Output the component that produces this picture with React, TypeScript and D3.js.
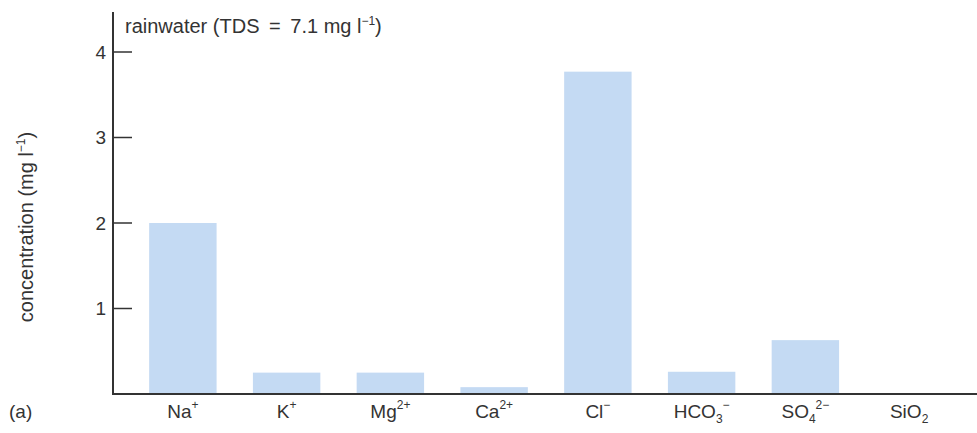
import React from "react";
import * as d3 from "d3";

// ions, in plot order; base text plus optional sub/superscript parts
const ions = ["Na", "K", "Mg", "Ca", "Cl", "HCO", "SO", "SiO"];
const ionSub = ["", "", "", "", "", "3", "4", "2"];
const ionSup = ["+", "+", "2+", "2+", "\u2212", "\u2212", "2\u2212", ""];
// concentration in mg l^-1
const concentration = [2.0, 0.25, 0.25, 0.08, 3.77, 0.26, 0.63, 0];
const yTicks = [1, 2, 3, 4];

const W = 977;
const H = 433;
const margin = { left: 113, right: 0, top: 12, bottom: 39 };
const font = "'Liberation Sans Narrow', 'Liberation Sans', Arial, sans-serif";
const ink = "#333";
const barFill = "#c4daf3";

export default function App() {
  const x = d3
    .scaleBand<number>()
    .domain(d3.range(ions.length))
    .range([131, 961])
    .paddingInner(0.35)
    .paddingOuter(0.175);

  // 0 at the baseline, 4 at y≈53
  const y = d3.scaleLinear().domain([0, 4]).range([394, 52]);

  return (
    <svg
      width={W}
      height={H}
      style={{ position: "absolute", left: 0, top: 0, background: "#fff" }}
      fontFamily={font}
    >
      {/* bars */}
      {concentration.map((v, i) =>
        v > 0 ? (
          <rect
            key={i}
            x={x(i)}
            y={y(v)}
            width={x.bandwidth()}
            height={y(0) - y(v)}
            fill={barFill}
          />
        ) : null
      )}

      {/* axes */}
      <line x1={margin.left} y1={margin.top} x2={margin.left} y2={y(0)} stroke={ink} strokeWidth={2} />
      <line x1={margin.left - 1} y1={y(0)} x2={W} y2={y(0)} stroke={ink} strokeWidth={2} />

      {yTicks.map((t) => (
        <g key={t}>
          <line x1={margin.left} x2={margin.left + 19} y1={y(t)} y2={y(t)} stroke={ink} strokeWidth={1.5} />
          <text x={106} y={y(t)} dy="0.36em" textAnchor="end" fontSize={19} fill={ink}>
            {t}
          </text>
        </g>
      ))}

      {/* category labels */}
      {ions.map((ion, i) => (
        <text
          key={ion}
          x={(x(i) ?? 0) + x.bandwidth() / 2}
          y={418}
          textAnchor="middle"
          fontSize={19}
          fill={ink}
        >
          {ion}
          {ionSub[i] && (
            <tspan fontSize={12} dy={5}>
              {ionSub[i]}
            </tspan>
          )}
          {ionSup[i] && (
            <tspan fontSize={12} dy={ionSub[i] ? -14 : -9}>
              {ionSup[i]}
            </tspan>
          )}
        </text>
      ))}

      {/* y axis title */}
      <text
        transform={`translate(33, 227) rotate(-90)`}
        textAnchor="middle"
        fontSize={20}
        fill={ink}
      >
        concentration (mg l
        <tspan fontSize={12} dy={-8}>
          {"\u22121"}
        </tspan>
        <tspan dy={8}>)</tspan>
      </text>

      {/* panel title */}
      <text x={125} y={33} fontSize={20} fill={ink}>
        {"rainwater (TDS \u2009=\u2009 7.1 mg l"}
        <tspan fontSize={12} dy={-8}>
          {"\u22121"}
        </tspan>
        <tspan dy={8}>)</tspan>
      </text>

      <text x={9} y={418} fontSize={19} fill={ink}>
        (a)
      </text>
    </svg>
  );
}
